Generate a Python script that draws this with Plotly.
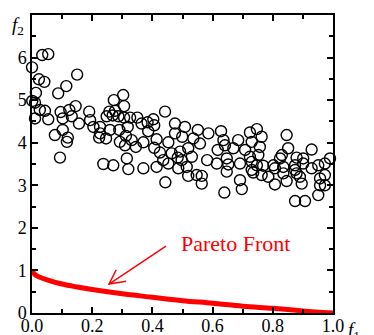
import plotly.graph_objects as go

# Pareto front
front_f1 = [0.0, 0.01, 0.02, 0.05, 0.1, 0.15, 0.2, 0.3, 0.4, 0.5, 0.6, 0.7, 0.8, 0.9, 1.0]
front_f2 = [1.0, 0.90, 0.86, 0.78, 0.68, 0.61, 0.55, 0.45, 0.37, 0.29, 0.23, 0.16, 0.11, 0.05, 0.0]

# Population
pop_f1 = [0.034, 0.054, 0.0, 0.023, 0.041, 0.150, 0.013, 0.114, 0.087, 0.001, 0.010, 0.145, 0.124, 0.026,
          0.043, 0.095, 0.190, 0.010, 0.054, 0.132, 0.102, 0.156, 0.193, 0.204, 0.226, 0.226, 0.223, 0.076,
          0.102, 0.119, 0.116, 0.093, 0.237, 0.303, 0.272, 0.306, 0.257, 0.276, 0.248, 0.268, 0.287, 0.306,
          0.326, 0.350, 0.403, 0.442, 0.364, 0.384, 0.406, 0.475, 0.475, 0.259, 0.246, 0.290, 0.318, 0.386,
          0.312, 0.292, 0.309, 0.331, 0.345, 0.370, 0.414, 0.406, 0.453, 0.464, 0.425, 0.436, 0.414, 0.453,
          0.315, 0.320, 0.270, 0.370, 0.486, 0.443, 0.492, 0.508, 0.551, 0.586, 0.628, 0.724, 0.499, 0.536,
          0.558, 0.636, 0.685, 0.641, 0.669, 0.617, 0.708, 0.519, 0.484, 0.531, 0.497, 0.582, 0.614, 0.652,
          0.691, 0.724, 0.514, 0.647, 0.519, 0.547, 0.564, 0.564, 0.647, 0.691, 0.697, 0.639, 0.730, 0.747,
          0.763, 0.846, 0.730, 0.757, 0.851, 0.929, 0.752, 0.830, 0.824, 0.879, 0.901, 0.990, 0.730, 0.747,
          0.768, 0.802, 0.874, 0.901, 0.951, 0.973, 0.807, 0.835, 0.929, 0.735, 0.763, 0.785, 0.874, 0.879,
          0.835, 0.973, 0.890, 0.957, 0.807, 0.846, 0.896, 0.957, 0.973, 0.951, 0.874, 0.907]
pop_f2 = [6.06, 6.08, 5.77, 5.49, 5.43, 5.60, 5.17, 5.33, 5.16, 4.98, 4.94, 4.86, 4.77, 4.77,
          4.75, 4.72, 4.73, 4.57, 4.55, 4.62, 4.57, 4.45, 4.53, 4.37, 4.37, 4.22, 4.12, 4.18,
          4.30, 4.12, 4.02, 3.65, 3.50, 5.12, 5.00, 4.86, 4.73, 4.75, 4.62, 4.64, 4.62, 4.59,
          4.59, 4.59, 4.55, 4.73, 4.45, 4.48, 4.41, 4.45, 4.22, 4.30, 4.10, 4.30, 4.37, 4.27,
          4.16, 4.02, 3.94, 4.06, 3.90, 4.01, 4.08, 3.88, 4.01, 3.75, 3.77, 3.59, 3.43, 3.51,
          3.63, 3.38, 3.47, 3.40, 3.40, 3.07, 3.79, 4.37, 4.30, 4.22, 4.27, 4.24, 4.14, 4.10,
          3.98, 4.06, 4.06, 3.94, 3.87, 3.83, 3.83, 3.87, 3.65, 3.67, 3.59, 3.59, 3.51, 3.49,
          3.51, 3.67, 3.43, 3.63, 3.22, 3.24, 3.22, 3.04, 3.32, 3.12, 2.91, 2.83, 3.36, 4.32,
          4.14, 4.18, 4.02, 3.90, 3.87, 3.84, 3.71, 3.71, 3.63, 3.65, 3.63, 3.63, 3.55, 3.47,
          3.46, 3.47, 3.47, 3.51, 3.47, 3.51, 3.40, 3.43, 3.40, 3.30, 3.24, 3.20, 3.36, 3.28,
          3.28, 3.24, 3.20, 3.16, 3.02, 3.10, 3.04, 3.00, 3.00, 2.77, 2.63, 2.63]

x_ticks = [0.0, 0.2, 0.4, 0.6, 0.8, 1.0]
x_tick_labels = ["0.0", "0.2", "0.4", "0.6", "0.8", "1.0"]
y_ticks = [0, 1, 2, 3, 4, 5, 6]
y_tick_labels = ["0", "1", "2", "3", "4", "5", "6"]

SERIF = "Liberation Serif"
RED = "#ff0000"

fig = go.Figure()
fig.add_trace(go.Scatter(
    x=pop_f1, y=pop_f2, mode="markers",
    marker=dict(symbol="circle-open", size=11, color="black", line=dict(width=1.4, color="black")),
    showlegend=False, cliponaxis=False))
fig.add_trace(go.Scatter(
    x=front_f1, y=front_f2, mode="lines", line=dict(color=RED, width=5, shape="spline"),
    showlegend=False, cliponaxis=False))

# arrow (open V head) as shapes
fig.add_shape(type="line", x0=0.445, y0=1.573, x1=0.256, y1=0.681, line=dict(color=RED, width=1.5), xref="x", yref="y")
fig.add_shape(type="path", path="M 0.280 1.016 L 0.256 0.681 L 0.313 0.744", line=dict(color=RED, width=1.5), xref="x", yref="y")

fig.add_annotation(x=0.676, y=1.64, text="Pareto Front", showarrow=False,
                   font=dict(family=SERIF, size=22, color=RED), xanchor="center", yanchor="middle")

fig.add_annotation(x=0.0, y=1.0, xref="paper", yref="paper", text="<i>f</i><sub>2</sub>", showarrow=False,
                   xanchor="right", yanchor="middle", xshift=-6, yshift=-11,
                   font=dict(family=SERIF, size=19, color="black"))
fig.add_annotation(x=1.0, y=0.0, xref="paper", yref="paper", text="<i>f</i><sub>1</sub>", showarrow=False,
                   xanchor="left", yanchor="top", xshift=13, yshift=-4,
                   font=dict(family=SERIF, size=19, color="black"))

axis_common = dict(showgrid=False, zeroline=False, showline=True, linecolor="black", linewidth=1.5,
                   ticks="inside", tickcolor="black", tickwidth=1.5, ticklen=6, mirror="ticks",
                   automargin=False,
                   tickfont=dict(family=SERIF, size=18, color="black"))
fig.update_xaxes(range=[0, 1], tickvals=x_ticks, ticktext=x_tick_labels, ticklabelstandoff=-4,
                 minor=dict(dtick=0.1, ticks="inside", ticklen=4, tickcolor="black", tickwidth=1.5),
                 **axis_common)
fig.update_yaxes(range=[0, 7], tickvals=y_ticks, ticktext=y_tick_labels,
                 minor=dict(dtick=0.5, ticks="inside", ticklen=4, tickcolor="black", tickwidth=1.5),
                 **axis_common)

fig.update_layout(template="none", width=366, height=327, margin=dict(l=24, r=41, t=7, b=22),
                  plot_bgcolor="white", paper_bgcolor="white")

fig.write_html("out.html")
